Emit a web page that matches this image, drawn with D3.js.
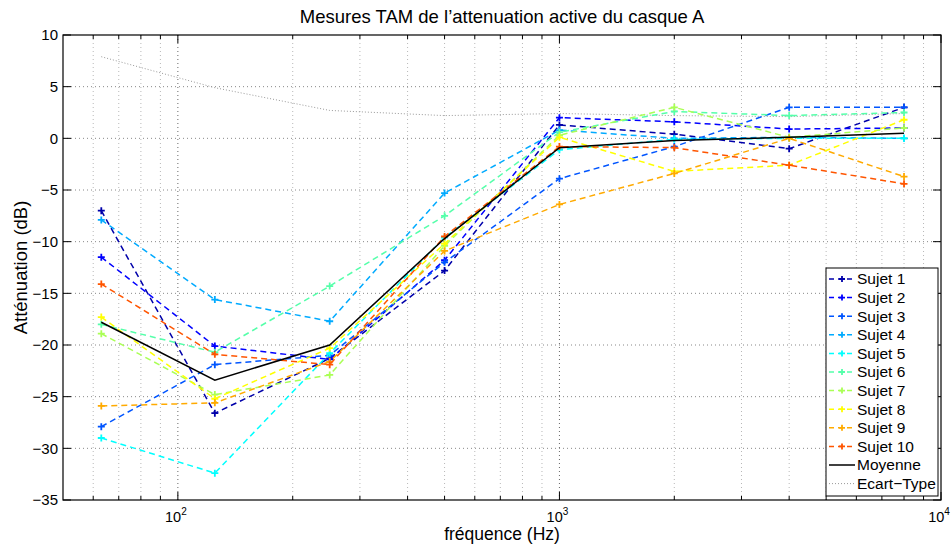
<!DOCTYPE html>
<html>
<head>
<meta charset="utf-8">
<script src="https://cdn.jsdelivr.net/npm/d3@7"></script>
<style>
	body { margin: 0; background: #fff; }
	text { font-family: "Liberation Sans", Arial, sans-serif; fill: #000; }
</style>
</head>
<body>
<div id="chart"></div>
<script>

// frequencies (Hz)
const freqs = [63, 125, 250, 500, 1000, 2000, 4000, 8000];

// attenuation per subject (dB)
const sujet1  = [-7.0, -26.6, -21.3, -12.8,  1.3,  0.4, -1.0,  3.0];
const sujet2  = [-11.5, -20.1, -21.4, -11.8, 2.0,  1.6,  0.9,  1.0];
const sujet3  = [-27.9, -21.9, -21.0, -12.0, -3.9, -0.8, 3.0,  3.0];
const sujet4  = [-7.9, -15.6, -17.7, -5.3,  0.8,  0.0,  0.1,  0.0];
const sujet5  = [-29.0, -32.4, -20.8, -9.6, -1.1, -0.1, 0.0,  0.0];
const sujet6  = [-18.0, -20.7, -14.3, -7.5,  0.6,  2.6,  2.2,  2.5];
const sujet7  = [-18.9, -24.8, -22.9, -10.4, 0.3,  3.0,  0.1,  1.0];
const sujet8  = [-17.3, -25.2, -20.3, -10.2, 0.1, -3.2, -2.6,  1.8];
const sujet9  = [-25.9, -25.6, -21.6, -10.9, -6.4, -3.4, 0.0, -3.7];
const sujet10 = [-14.1, -20.9, -21.9, -9.5, -0.8, -0.9, -2.6, -4.4];

const moyenne   = [-17.8, -23.4, -20.0, -9.7, -0.9, -0.2, 0.1, 0.5];
const ecartType = [7.9, 4.9, 2.7, 2.2, 2.4, 2.2, 2.1, 2.4];

const subjectNames = ["Sujet 1", "Sujet 2", "Sujet 3", "Sujet 4", "Sujet 5",
	"Sujet 6", "Sujet 7", "Sujet 8", "Sujet 9", "Sujet 10"];
const subjectValues = [sujet1, sujet2, sujet3, sujet4, sujet5, sujet6, sujet7, sujet8, sujet9, sujet10];
// jet(10)
const subjectColors = ["#0000aa", "#0000ff", "#0055ff", "#00aaff", "#00ffff",
	"#55ffaa", "#aaff55", "#ffff00", "#ffaa00", "#ff5500"];

const yTicks = [-35, -30, -25, -20, -15, -10, -5, 0, 5, 10];
const xMajor = [100, 1000, 10000];

const W = 952, H = 544;
const margin = { top: 35, right: 11, bottom: 44, left: 63 };
const pw = W - margin.left - margin.right;
const ph = H - margin.top - margin.bottom;

const svg = d3.select("#chart").append("svg")
	.attr("width", W)
	.attr("height", H);

const x = d3.scaleLog().domain([50, 10000]).range([0, pw]);
const y = d3.scaleLinear().domain([-35, 10]).range([ph, 0]);

const g = svg.append("g")
	.attr("transform", `translate(${margin.left},${margin.top})`);

// minor ticks 2..9 x 10^k inside the domain
let xMinor = [];
[10, 100, 1000].forEach(k => {
	for (let m = 2; m <= 9; m++) {
		let v = m * k;
		if (v > 50 && v < 10000) xMinor.push(v);
	}
});

// grid
g.selectAll(".vminor").data(xMinor).enter().append("line")
	.attr("x1", d => x(d)).attr("x2", d => x(d))
	.attr("y1", 0).attr("y2", ph)
	.attr("stroke", "#b8b8b8").attr("stroke-width", 1)
	.attr("stroke-dasharray", "1,3");

g.selectAll(".vmajor").data([100, 1000]).enter().append("line")
	.attr("x1", d => x(d)).attr("x2", d => x(d))
	.attr("y1", 0).attr("y2", ph)
	.attr("stroke", "#666").attr("stroke-width", 1)
	.attr("stroke-dasharray", "1,3");

g.selectAll(".hgrid").data(yTicks.slice(1, -1)).enter().append("line")
	.attr("x1", 0).attr("x2", pw)
	.attr("y1", d => y(d)).attr("y2", d => y(d))
	.attr("stroke", "#888").attr("stroke-width", 1)
	.attr("stroke-dasharray", "1,3");

// std line
const line = d3.line()
	.x((d, i) => x(freqs[i]))
	.y(d => y(d));

g.append("path")
	.datum(ecartType)
	.attr("fill", "none")
	.attr("stroke", "#999")
	.attr("stroke-width", 1)
	.attr("stroke-dasharray", "1,2")
	.attr("d", line);

// subjects
subjectValues.forEach((vals, s) => {
	g.append("path")
		.datum(vals)
		.attr("fill", "none")
		.attr("stroke", subjectColors[s])
		.attr("stroke-width", 1.5)
		.attr("stroke-dasharray", "6,4")
		.attr("d", line);

	g.selectAll(".mk" + s).data(vals).enter().append("path")
		.attr("transform", (d, i) => `translate(${x(freqs[i])},${y(d)})`)
		.attr("d", "M-3.5,0H3.5M0,-3.5V3.5")
		.attr("stroke", subjectColors[s])
		.attr("stroke-width", 1.8);
});

// mean
g.append("path")
	.datum(moyenne)
	.attr("fill", "none")
	.attr("stroke", "#000")
	.attr("stroke-width", 1.5)
	.attr("d", line);

// frame
g.append("rect")
	.attr("width", pw).attr("height", ph)
	.attr("fill", "none").attr("stroke", "#000").attr("stroke-width", 1.2);

// ticks (inside, on all four sides)
const ticks = g.append("g").attr("stroke", "#000").attr("stroke-width", 1);
xMinor.forEach(v => {
	ticks.append("line").attr("x1", x(v)).attr("x2", x(v)).attr("y1", ph).attr("y2", ph - 4);
	ticks.append("line").attr("x1", x(v)).attr("x2", x(v)).attr("y1", 0).attr("y2", 4);
});
xMajor.forEach(v => {
	ticks.append("line").attr("x1", x(v)).attr("x2", x(v)).attr("y1", ph).attr("y2", ph - 8);
	ticks.append("line").attr("x1", x(v)).attr("x2", x(v)).attr("y1", 0).attr("y2", 8);
});
yTicks.forEach(v => {
	ticks.append("line").attr("x1", 0).attr("x2", 8).attr("y1", y(v)).attr("y2", y(v));
	ticks.append("line").attr("x1", pw).attr("x2", pw - 8).attr("y1", y(v)).attr("y2", y(v));
});

// y tick labels
g.selectAll(".ylab").data(yTicks).enter().append("text")
	.attr("x", -5)
	.attr("y", d => y(d))
	.attr("dy", "0.35em")
	.attr("text-anchor", "end")
	.style("font-size", "15px")
	.text(d => d < 0 ? "\u2212" + Math.abs(d) : d);

// x tick labels 10^k
xMajor.forEach(v => {
	let t = g.append("text")
		.attr("x", x(v) - 2)
		.attr("y", ph + 22)
		.attr("text-anchor", "middle")
		.style("font-size", "14.5px");
	t.append("tspan").text("10");
	t.append("tspan")
		.attr("dy", "-7")
		.style("font-size", "10px")
		.text(Math.round(Math.log10(v)));
});

// axis titles
svg.append("text")
	.attr("x", margin.left + pw / 2)
	.attr("y", 540)
	.attr("text-anchor", "middle")
	.style("font-size", "17.5px")
	.text("fréquence (Hz)");

svg.append("text")
	.attr("transform", `translate(27,${margin.top + ph / 2}) rotate(-90)`)
	.attr("text-anchor", "middle")
	.style("font-size", "18.5px")
	.text("Atténuation (dB)");

svg.append("text")
	.attr("x", margin.left + pw / 2)
	.attr("y", 23)
	.attr("text-anchor", "middle")
	.style("font-size", "18.5px")
	.text("Mesures TAM de l\u2019attenuation active du casque A");

// legend
const legItems = subjectNames.map((n, i) => ({ name: n, color: subjectColors[i], kind: "subject" }))
	.concat([{ name: "Moyenne", color: "#000", kind: "mean" },
		{ name: "Ecart\u2212Type", color: "#999", kind: "std" }]);

const leg = svg.append("g").attr("transform", "translate(826,268)");
leg.append("rect")
	.attr("width", 112).attr("height", 228)
	.attr("fill", "#fff").attr("stroke", "#000").attr("stroke-width", 1);

legItems.forEach((d, i) => {
	let ly = 11 + i * 18.6;
	let row = leg.append("g").attr("transform", `translate(0,${ly})`);
	if (d.kind === "subject") {
		row.append("line").attr("x1", 3).attr("x2", 29).attr("y1", 0).attr("y2", 0)
			.attr("stroke", d.color).attr("stroke-width", 1.5).attr("stroke-dasharray", "5,4");
		row.append("path").attr("transform", "translate(16,0)")
			.attr("d", "M-3,0H3M0,-3V3").attr("stroke", d.color).attr("stroke-width", 1.8);
	} else if (d.kind === "mean") {
		row.append("line").attr("x1", 3).attr("x2", 29).attr("y1", 0).attr("y2", 0)
			.attr("stroke", "#000").attr("stroke-width", 1.5);
	} else {
		row.append("line").attr("x1", 3).attr("x2", 29).attr("y1", 0).attr("y2", 0)
			.attr("stroke", "#999").attr("stroke-width", 1).attr("stroke-dasharray", "1,2");
	}
	row.append("text")
		.attr("x", 31).attr("y", 0).attr("dy", "0.35em")
		.style("font-size", "15.5px")
		.text(d.name);
});

</script>
</body>
</html>
